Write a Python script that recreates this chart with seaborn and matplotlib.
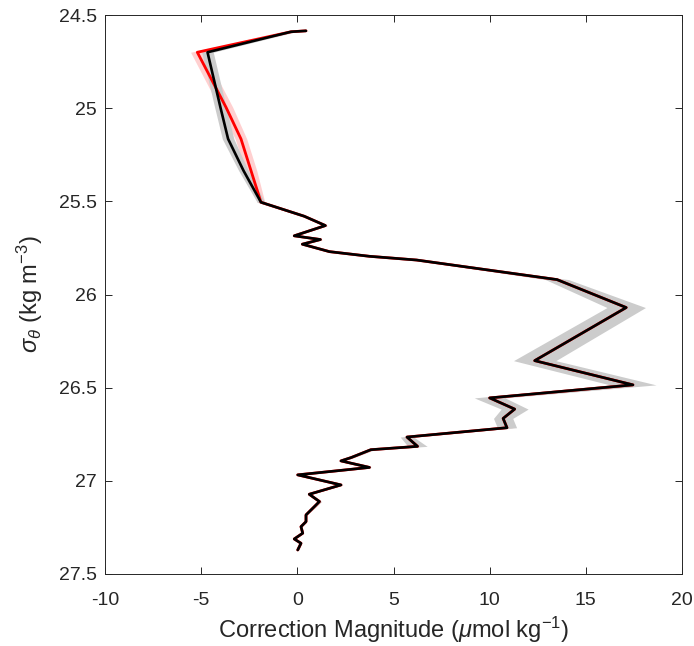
import matplotlib
matplotlib.use('agg')

import seaborn as sns
import matplotlib.pyplot as plt
import pandas as pd

sns.set_style('ticks')
plt.rcParams['font.family'] = ['Liberation Sans', 'DejaVu Sans']
plt.rcParams['mathtext.fontset'] = 'custom'
plt.rcParams['mathtext.rm'] = 'Liberation Sans'
plt.rcParams['mathtext.it'] = 'Liberation Sans:italic'

# potential density levels (kg m-3)
sigma = [24.585, 24.59, 24.70, 24.995, 25.165, 25.335, 25.505, 25.58, 25.63,
         25.685, 25.705, 25.73, 25.77, 25.795, 25.815, 25.92, 26.07, 26.355,
         26.485, 26.555, 26.615, 26.665, 26.715, 26.765, 26.815, 26.833,
         26.875, 26.893, 26.928, 26.968, 27.022, 27.072, 27.111, 27.138,
         27.183, 27.219, 27.246, 27.281, 27.312, 27.335, 27.371]

# correction magnitude, black profile
corr = [0.45, -0.33, -4.67, -4.0, -3.6, -2.8, -1.89, 0.36, 1.46,
        -0.16, 1.2, 0.26, 1.67, 3.75, 6.2, 13.5, 17.1, 12.34,
        17.45, 10.0, 11.3, 10.7, 10.9, 5.7, 6.25, 3.82,
        2.8, 2.27, 3.75, 0.02, 2.27, 0.62, 1.15, 0.89,
        0.45, 0.45, 0.19, 0.28, -0.16, 0.19, 0.02]
corr_err = [0.2, 0.25, 0.3, 0.3, 0.3, 0.25, 0.2, 0.1, 0.1,
            0.1, 0.1, 0.1, 0.1, 0.1, 0.15, 0.6, 1.0, 1.1,
            1.2, 0.8, 0.7, 0.5, 0.5, 0.35, 0.5, 0.2,
            0.15, 0.15, 0.1, 0.1, 0.1, 0.1, 0.1, 0.1,
            0.05, 0.05, 0.05, 0.05, 0.05, 0.05, 0.05]

# alternative estimate, red profile
corr_alt = [0.45, -0.33, -5.2, -3.71, -2.93, -2.41, -1.89, 0.36, 1.46,
            -0.16, 1.2, 0.26, 1.67, 3.75, 6.2, 13.5, 17.1, 12.34,
            17.45, 10.0, 11.3, 10.7, 10.9, 5.7, 6.25, 3.82,
            2.8, 2.27, 3.75, 0.02, 2.27, 0.62, 1.15, 0.89,
            0.45, 0.45, 0.19, 0.28, -0.16, 0.19, 0.02]
corr_alt_err = [0.2, 0.25, 0.35, 0.35, 0.3, 0.3, 0.2, 0.1, 0.1,
                0.1, 0.1, 0.1, 0.1, 0.1, 0.1, 0.3, 0.5, 0.5,
                0.5, 0.4, 0.4, 0.3, 0.3, 0.2, 0.3, 0.1,
                0.1, 0.1, 0.1, 0.1, 0.1, 0.1, 0.1, 0.1,
                0.05, 0.05, 0.05, 0.05, 0.05, 0.05, 0.05]

df = pd.DataFrame({'sigma': sigma, 'corr': corr, 'alt': corr_alt})

fig = plt.figure(figsize=(6.94, 6.46), dpi=100)
ax = fig.add_axes([105 / 694, 72 / 646, 577 / 694, 559 / 646])

lo_a = [c - e for c, e in zip(corr_alt, corr_alt_err)]
hi_a = [c + e for c, e in zip(corr_alt, corr_alt_err)]
lo = [c - e for c, e in zip(corr, corr_err)]
hi = [c + e for c, e in zip(corr, corr_err)]
ax.fill_betweenx(sigma, lo_a, hi_a, color='#ffd0d0', lw=0)
ax.fill_betweenx(sigma, lo, hi, color='#cccccc', lw=0)

sns.lineplot(data=df, x='alt', y='sigma', orient='y', sort=False,
             color='red', lw=2.0, ax=ax)
sns.lineplot(data=df, x='corr', y='sigma', orient='y', sort=False,
             color='black', lw=1.9, ax=ax)

ax.set_xlim(-10, 20)
ax.set_ylim(27.5, 24.5)
ax.set_xticks([-10, -5, 0, 5, 10, 15, 20])
ax.set_xticklabels(['-10', '-5', '0', '5', '10', '15', '20'])
ax.set_yticks([24.5, 25, 25.5, 26, 26.5, 27, 27.5])
ax.set_yticklabels(['24.5', '25', '25.5', '26', '26.5', '27', '27.5'])

ax.tick_params(direction='in', length=5, width=0.7, color='#262626',
               labelcolor='#262626', labelsize=14, top=True, right=True)
ax.tick_params(axis='x', pad=13)
ax.tick_params(axis='y', pad=6)
for s in ax.spines.values():
    s.set_visible(True)
    s.set_color('#262626')
    s.set_linewidth(0.7)

ax.set_xlabel(r'Correction Magnitude ($\mu$mol kg$^{-1}$)', fontsize=17,
              color='#262626', labelpad=4)
ax.set_ylabel(r'$\sigma_\theta$ (kg m$^{-3}$)', fontsize=17,
              color='#262626', labelpad=10)

fig.savefig('out.png', dpi=100)
